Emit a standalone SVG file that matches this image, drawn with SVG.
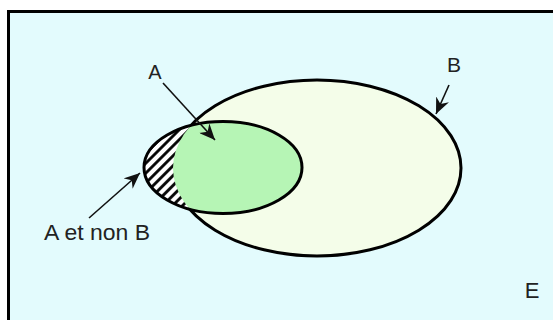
<svg xmlns="http://www.w3.org/2000/svg" width="553" height="320" viewBox="0 0 553 320">
  <style>
    .lbl { font-family: "Liberation Sans", Arial, sans-serif; fill: #222; }
    .outline { stroke: #000; stroke-width: 3; }
    .arrow { stroke: #111; stroke-width: 1.6; fill: none; marker-end: url(#head); }
  </style>
  <defs>
    <marker id="head" markerUnits="userSpaceOnUse" markerWidth="18" markerHeight="14" refX="16" refY="7" orient="auto">
      <path d="M0,0 L16,7 L0,14 L5,7 Z" fill="#111"/>
    </marker>
    <pattern id="hatch" patternUnits="userSpaceOnUse" width="7" height="7" patternTransform="rotate(45)">
      <rect width="7" height="7" fill="#fff"/>
      <line x1="1.5" y1="0" x2="1.5" y2="7" stroke="#000" stroke-width="2.8"/>
    </pattern>
    <clipPath id="clipB">
      <ellipse cx="317" cy="168" rx="144" ry="88"/>
    </clipPath>
  </defs>

  <rect width="553" height="320" fill="#ffffff"/>
  <g id="E">
    <rect x="8.5" y="11.5" width="560" height="320" fill="#e3fbfd" stroke="#000" stroke-width="3"/>
    <text class="lbl" x="532" y="298" font-size="22" text-anchor="middle">E</text>
  </g>

  <g id="B">
    <ellipse class="outline" cx="317" cy="168" rx="144" ry="88" fill="#f4fde9"/>
    <text class="lbl" x="454" y="72" font-size="21" text-anchor="middle">B</text>
  </g>

  <g id="A">
    <ellipse cx="223" cy="167.5" rx="79" ry="46" fill="url(#hatch)"/>
    <ellipse cx="223" cy="167.5" rx="79" ry="46" fill="#b6f5b5" clip-path="url(#clipB)"/>
    <ellipse class="outline" cx="223" cy="167.5" rx="79" ry="46" fill="none"/>
    <text class="lbl" x="155" y="79" font-size="20" text-anchor="middle">A</text>
  </g>

  <g id="AnonB">
    <text class="lbl" x="97" y="240" font-size="22" text-anchor="middle" textLength="106" lengthAdjust="spacingAndGlyphs">A et non B</text>
  </g>

  <g id="connectors">
    <line class="arrow" x1="163" y1="83" x2="215" y2="140"/>
    <line class="arrow" x1="449" y1="85" x2="436" y2="114"/>
    <line class="arrow" x1="89" y1="218" x2="140" y2="173"/>
  </g>
</svg>
